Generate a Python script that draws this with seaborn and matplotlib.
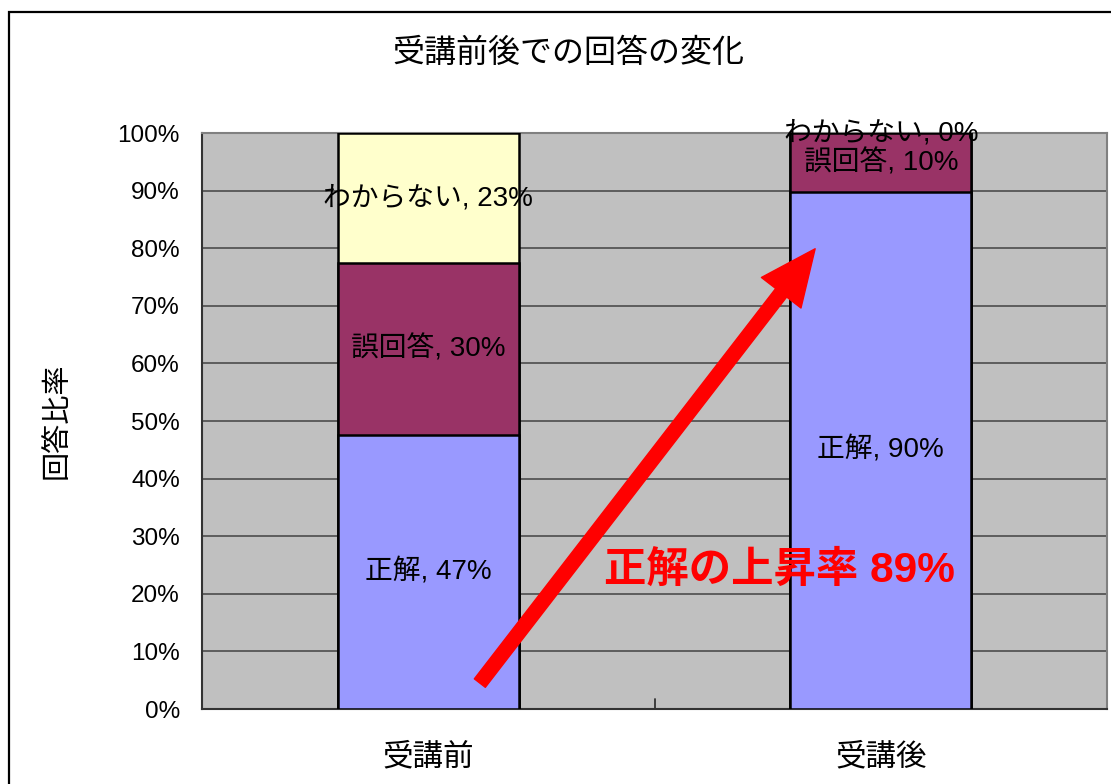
import pandas as pd
import numpy as np
import seaborn as sns
import matplotlib.pyplot as plt
from matplotlib.patches import Rectangle

# data
phases = ['受講前', '受講後']
correct = [47.5, 89.8]
wrong = [29.9, 10.2]
unknown = [22.6, 0.0]
correct_lbl = ['正解, 47%', '正解, 90%']
wrong_lbl = ['誤回答, 30%', '誤回答, 10%']
unknown_lbl = ['わからない, 23%', 'わからない, 0%']
yticks = [0, 10, 20, 30, 40, 50, 60, 70, 80, 90, 100]
gain_text = '正解の上昇率 89%'

df = pd.DataFrame({'phase': phases, 'correct': correct,
                   'wrong': wrong, 'unknown': unknown})
df['c1'] = df['correct']
df['c2'] = df['correct'] + df['wrong']
df['c3'] = df['c2'] + df['unknown']

sns.set_style('white')
plt.rcParams['font.family'] = ['Liberation Sans', 'Noto Sans CJK JP']
plt.rcParams['text.color'] = 'black'
plt.rcParams['xtick.color'] = 'black'
plt.rcParams['ytick.color'] = 'black'
plt.rcParams['axes.labelcolor'] = 'black'

fig = plt.figure(figsize=(11.11, 7.84), dpi=100)
ax = fig.add_axes([202 / 1111, 1 - 709 / 784, 905 / 1111, 576 / 784])
ax.set_facecolor('#C0C0C0')

# stacked bars drawn as layered cumulative totals
for col, color in [('c3', '#FFFFCC'), ('c2', '#993366'), ('c1', '#9999FF')]:
    sns.barplot(data=df, x='phase', y=col, color=color, width=0.4,
                edgecolor='black', linewidth=1.8, saturation=1, ax=ax, zorder=3)

ax.set_xlim(-0.5, 1.5)
ax.set_ylim(0, 100)
ax.set_yticks(yticks)
ax.set_yticklabels([f'{t}%' for t in yticks], fontsize=17.5)
ax.set_xticks([0, 1])
ax.set_xticklabels(phases, fontsize=22)
ax.tick_params(axis='x', length=0, pad=24)
ax.tick_params(axis='y', direction='in', length=7, width=1.5, color='#333333', pad=16)
ax.set_axisbelow(True)
ax.yaxis.grid(True, color='#555555', lw=1.3)
ax.axvline(0.5, ymin=0, ymax=0.018, color='#333333', lw=1.3)
ax.set_xlabel('')
ax.set_ylabel('回答比率', fontsize=21, labelpad=34)
for s in ['top', 'right']:
    ax.spines[s].set_color('#808080')
    ax.spines[s].set_linewidth(1.5)
for s in ['left', 'bottom']:
    ax.spines[s].set_color('#333333')
    ax.spines[s].set_linewidth(1.5)

# segment labels
lab = dict(ha='center', va='center', fontsize=20, zorder=5)
for i in range(len(phases)):
    ax.text(i, df['c1'][i] / 2, correct_lbl[i], **lab)
    ax.text(i, df['c1'][i] + df['wrong'][i] / 2, wrong_lbl[i], **lab)
    ax.text(i, df['c2'][i] + df['unknown'][i] / 2, unknown_lbl[i], **lab)

# red arrow and annotation
ax.annotate('', xy=(0.855, 79.9), xytext=(0.114, 4.5),
            arrowprops=dict(facecolor='red', edgecolor='red', width=10,
                            headwidth=36, headlength=40, shrink=0),
            zorder=6)
ax.text(0.775, 24.1, gain_text, color='red', fontsize=30.5, fontweight='bold',
        ha='center', va='center', zorder=7)

fig.suptitle('受講前後での回答の変化', x=568 / 1111, y=1 - 54 / 784, fontsize=23, va='center')

fig.patches.append(Rectangle((9 / 1111, -0.1), 1.2, 1.1 - 12 / 784, transform=fig.transFigure,
                             fill=False, edgecolor='black', lw=1.6, clip_on=False))

fig.savefig('out.png', dpi=100)
